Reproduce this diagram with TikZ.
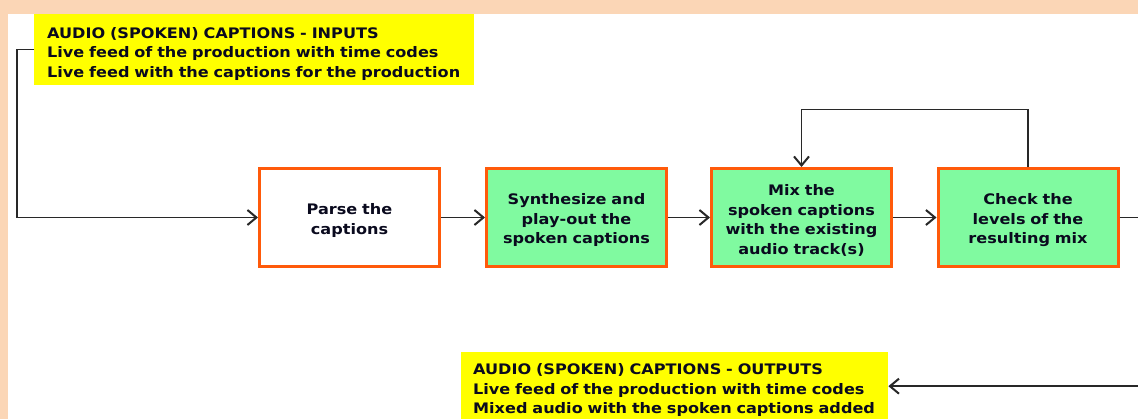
\documentclass[tikz,border=0pt]{standalone}
\usepackage{fontspec}
\setmainfont{DejaVu Sans}[FakeStretch=1.11]
\usetikzlibrary{arrows.meta}
\definecolor{peach}{RGB}{251,214,182}
\definecolor{notefill}{RGB}{255,255,0}
\definecolor{stepfill}{RGB}{128,250,160}
\definecolor{stepedge}{RGB}{255,90,10}
\definecolor{wire}{RGB}{40,40,40}
\definecolor{inktext}{RGB}{10,10,30}
\begin{document}
\begin{tikzpicture}[x=1pt,y=-1pt,
  every node/.style={font=\fontsize{14.5}{19.5}\selectfont\bfseries, text=inktext},
  stepbox/.style={draw=stepedge, line width=3pt, minimum width=180pt, minimum height=98pt,
    text width=176pt, align=center, inner sep=0pt,
    execute at begin node={\rule{0pt}{17pt}}},
  greenbox/.style={stepbox, fill=stepfill},
  notebox/.style={fill=notefill, anchor=north west, align=left, inner ysep=0pt,
    execute at begin node={\rule{0pt}{19pt}}},
  flow/.style={draw=wire, line width=1.4pt,
    -{Straight Barb[length=9pt,width=15pt,line width=2pt]}}]
  % page background and white drawing area
  \useasboundingbox (0,0) rectangle (1138,419);
  \fill[peach] (0,0) rectangle (1138,419);
  \fill[white] (8,14) rectangle (1138,419);

  % input and output notes
  \node[notebox, inner xsep=13pt, minimum width=440pt, minimum height=71pt, text width=414pt]
    (inputs) at (34,14)
    {\mbox{AUDIO (SPOKEN) CAPTIONS - INPUTS}\\
     \mbox{Live feed of the production with time codes}\\
     \mbox{Live feed with the captions for the production}};
  \node[notebox, inner xsep=12pt, minimum width=427pt, minimum height=68pt, text width=403pt]
    (outputs) at (461,352)
    {\mbox{AUDIO (SPOKEN) CAPTIONS - OUTPUTS}\\
     \mbox{Live feed of the production with time codes}\\
     \mbox{Mixed audio with the spoken captions added}};

  % processing steps
  \node[stepbox, fill=white] (parse) at (349.5,217.5) {Parse the\\captions};
  \node[greenbox] (synth) at (576.5,217.5) {Synthesize and\\play-out the\\spoken captions};
  \node[greenbox] (mix) at (801.5,217.5) {Mix the\\spoken captions\\with the existing\\audio track(s)};
  \node[greenbox] (check) at (1028,217.5) {Check the\\levels of the\\resulting mix};

  % connectors
  \draw[flow] (inputs.west) -- (17,0 |- inputs.west) -- (17,0 |- parse.west) -- (parse.west);
  \draw[flow] (parse) -- (synth);
  \draw[flow] (synth) -- (mix);
  \draw[flow] (mix) -- (check);
  \draw[flow] (check.north) -- ++(0,-57.5) -| (mix.north);
  \draw[flow] (check.east) -- (1150,0 |- check.east) -- (1150,0 |- outputs.east) -- (outputs.east);
\end{tikzpicture}
\end{document}
